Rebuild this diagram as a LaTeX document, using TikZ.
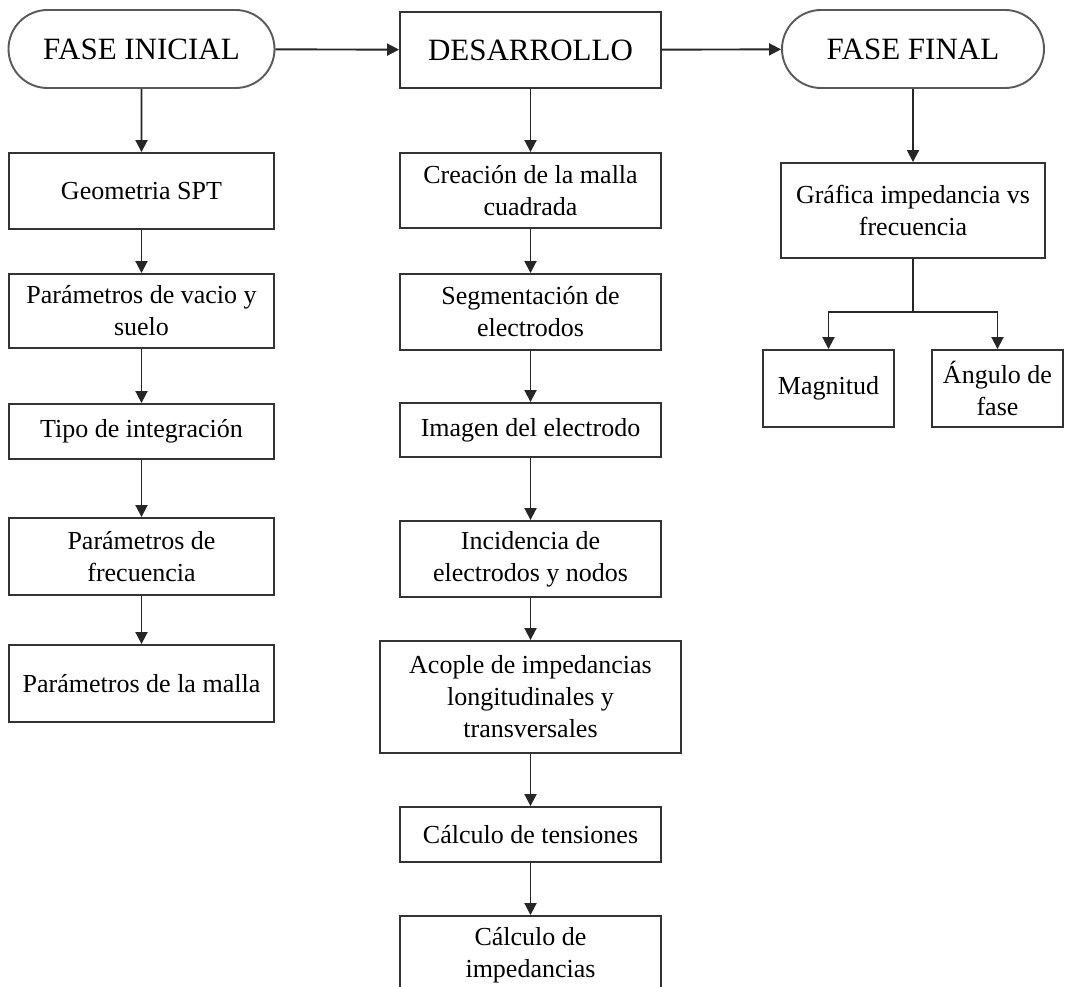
\documentclass[tikz,border=0pt]{standalone}
\usepackage{fontspec}
\setmainfont{Liberation Serif}
\usetikzlibrary{arrows.meta,shapes.misc}
\begin{document}
\begin{tikzpicture}[x=1pt,y=-1pt,
  box/.style={draw=black!80, line width=1.9pt, rectangle, align=center, inner sep=0pt,
    font=\fontsize{26}{32}\selectfont},
  pill/.style={draw=black!65, line width=1.9pt, rounded rectangle, inner sep=0pt,
    font=\fontsize{31}{36}\selectfont},
  big/.style={draw=black!80, line width=1.9pt, rectangle, inner sep=0pt,
    font=\fontsize{31}{36}\selectfont},
  arr/.style={-{Triangle[length=12pt,width=12pt]}, line width=1.9pt, draw=black!85},
  ln/.style={line width=1.9pt, draw=black!85}]
\useasboundingbox (0,0) rectangle (1065,987);
\clip (0,0) rectangle (1065,987);
\fill[white] (0,0) rectangle (1065,987);

% headers
\node[pill, minimum width=266pt, minimum height=78pt] (fi) at (141.5,49) {FASE INICIAL};
\node[big, minimum width=261pt, minimum height=76pt] (des) at (530.5,50) {DESARROLLO};
\node[pill, minimum width=262pt, minimum height=78pt] (ff) at (913,49) {FASE FINAL};

% left column
\node[box, minimum width=265pt, minimum height=76pt] (geo) at (141.5,191) {Geometria SPT};
\node[box, minimum width=265pt, minimum height=74pt] (vac) at (141.5,311) {Parámetros de vacio y\\suelo};
\node[box, minimum width=265pt, minimum height=55pt] (tip) at (141.5,431.5) {Tipo de integración};
\node[box, minimum width=265pt, minimum height=77pt] (fre) at (141.5,556.5) {Parámetros de\\frecuencia};
\node[box, minimum width=265pt, minimum height=77pt] (mal) at (141.5,683.5) {Parámetros de la malla};

% middle column
\node[box, minimum width=261pt, minimum height=75pt] (cre) at (530.5,190.5) {Creación de la malla\\cuadrada};
\node[box, minimum width=261pt, minimum height=76pt] (seg) at (530.5,312) {Segmentación de\\electrodos};
\node[box, minimum width=261pt, minimum height=54pt] (ima) at (530.5,430) {Imagen del electrodo};
\node[box, minimum width=261pt, minimum height=76pt] (inc) at (530.5,559) {Incidencia de\\electrodos y nodos};
\node[box, minimum width=301pt, minimum height=112pt] (aco) at (530.5,697) {Acople de impedancias\\longitudinales y\\transversales};
\node[box, minimum width=261pt, minimum height=55pt] (ten) at (530.5,834.5) {Cálculo de tensiones};
\node[box, minimum width=261pt, minimum height=78pt] (imp) at (530.5,955) {Cálculo de\\impedancias};

% right column
\node[box, minimum width=264pt, minimum height=95pt] (gra) at (913,210.5) {Gráfica impedancia vs\\frecuencia};
\node[box, minimum width=131pt, minimum height=77pt] (mag) at (828.5,388.5) {Magnitud};
\node[box, minimum width=131pt, minimum height=77pt] (ang) at (997.5,388.5) {Ángulo de\\fase};

% connectors
\draw[arr] (fi) -- (des);
\draw[arr] (des) -- (ff);
\draw[arr] (fi) -- (geo);
\draw[arr] (geo) -- (vac);
\draw[arr] (vac) -- (tip);
\draw[arr] (tip) -- (fre);
\draw[arr] (fre) -- (mal);
\draw[arr] (des) -- (cre);
\draw[arr] (cre) -- (seg);
\draw[arr] (seg) -- (ima);
\draw[arr] (ima) -- (inc);
\draw[arr] (inc) -- (aco);
\draw[arr] (aco) -- (ten);
\draw[arr] (ten) -- (imp);
\draw[arr] (ff) -- (gra);
\coordinate (br) at (913,312);
\draw[ln] (gra) -- (br);
\draw[arr] (br) -| (mag);
\draw[arr] (br) -| (ang);
\end{tikzpicture}
\end{document}
